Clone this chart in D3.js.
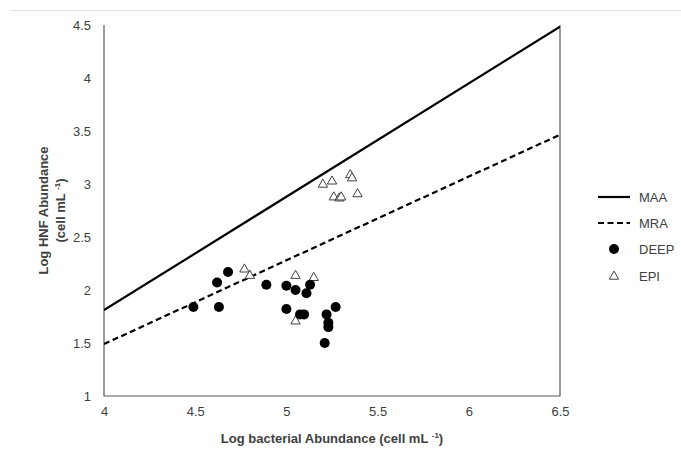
<!DOCTYPE html>
<html><head><meta charset="utf-8">
<script src="https://cdn.jsdelivr.net/npm/d3@7"></script>
<style>body{margin:0;background:#fff}svg{display:block}text{font-family:"Liberation Sans",Arial,sans-serif}</style>
</head><body><svg id="c" width="681" height="459"></svg>
<script>
// ---- data ----
const xTicks = [4, 4.5, 5, 5.5, 6, 6.5];
const yTicks = [1, 1.5, 2, 2.5, 3, 3.5, 4, 4.5];
const maaX = [4, 6.5];
const maaY = [1.81, 4.485];
const mraX = [4, 6.5];
const mraY = [1.49, 3.465];
const deepX = [4.49, 4.63, 4.62, 4.68, 4.89, 5.00, 5.05, 5.13, 5.11, 5.00, 5.075, 5.097, 5.27, 5.22, 5.23, 5.23, 5.21];
const deepY = [1.84, 1.84, 2.07, 2.17, 2.05, 2.04, 2.00, 2.05, 1.97, 1.82, 1.77, 1.77, 1.84, 1.77, 1.69, 1.65, 1.50];
const epiX = [5.20, 5.25, 5.35, 5.36, 5.26, 5.29, 5.30, 5.39, 4.77, 4.80, 5.05, 5.15, 5.05];
const epiY = [3.00, 3.03, 3.09, 3.06, 2.88, 2.87, 2.88, 2.91, 2.20, 2.14, 2.14, 2.12, 1.71];
const legendLabels = ["MAA", "MRA", "DEEP", "EPI"];
const xTitle = "Log bacterial Abundance (cell mL ";
const yTitle1 = "Log HNF Abundance";
const yTitle2 = "(cell mL ";

// ---- chart ----
const svg = d3.select("#c");
svg.append("rect").attr("width",681).attr("height",459).attr("fill","#fff");
svg.append("line").attr("x1",10).attr("x2",681).attr("y1",10.5).attr("y2",10.5).attr("stroke","#e3e3e3").attr("stroke-width",1);

const L = 104, R = 560, T = 25, B = 396;
const x = d3.scaleLinear().domain([4, 6.5]).range([L, R]);
const y = d3.scaleLinear().domain([1, 4.5]).range([B, T]);

const defs = svg.append("defs");
defs.append("clipPath").attr("id","plot").append("rect").attr("x",L).attr("y",T).attr("width",R-L).attr("height",B-T);

// axes (labels only, no tick marks)
const xAxis = svg.append("g").attr("transform",`translate(0,${B})`)
  .call(d3.axisBottom(x).tickValues(xTicks).tickSize(0).tickPadding(11).tickFormat(d3.format("~g")));
xAxis.select(".domain").remove();
xAxis.selectAll("text").attr("font-size",13).attr("fill","#404040").attr("font-family","Liberation Sans, Arial, sans-serif");

const yAxis = svg.append("g").attr("transform",`translate(${L},0)`)
  .call(d3.axisLeft(y).tickValues(yTicks).tickSize(0).tickPadding(13).tickFormat(d3.format("~g")));
yAxis.select(".domain").remove();
yAxis.selectAll("text").attr("font-size",13).attr("fill","#404040").attr("font-family","Liberation Sans, Arial, sans-serif");

// frame
svg.append("path").attr("d",`M${L},${T}V${B}H${R}V${T}`).attr("fill","none").attr("stroke","#595959").attr("stroke-width",1.2);

// lines
const line = d3.line().x(d=>x(d[0])).y(d=>y(d[1]));
const g = svg.append("g").attr("clip-path","url(#plot)");
g.append("path").datum(d3.zip(maaX, maaY)).attr("d",line).attr("fill","none").attr("stroke","#000").attr("stroke-width",2.2);
g.append("path").datum(d3.zip(mraX, mraY)).attr("d",line).attr("fill","none").attr("stroke","#000").attr("stroke-width",2.2).attr("stroke-dasharray","6,3.5");

// points
const tri = d3.symbol().type(d3.symbolTriangle).size(38);
g.selectAll("path.epi").data(d3.zip(epiX, epiY)).join("path").attr("class","epi")
  .attr("d",tri).attr("transform",d=>`translate(${x(d[0])},${y(d[1])+0.5})`)
  .attr("fill","#fff").attr("stroke","#404040").attr("stroke-width",1);
g.selectAll("circle.deep").data(d3.zip(deepX, deepY)).join("circle").attr("class","deep")
  .attr("cx",d=>x(d[0])).attr("cy",d=>y(d[1])).attr("r",5).attr("fill","#000");

// axis titles
const xt = svg.append("text").attr("x",(L+R)/2).attr("y",443).attr("text-anchor","middle")
  .attr("font-size",13).attr("font-weight","bold").attr("fill","#404040");
xt.append("tspan").text(xTitle);
xt.append("tspan").attr("font-size",8).attr("dy",-5).text("-1");
xt.append("tspan").attr("dy",5).text(")");

const yt = svg.append("g").attr("transform",`translate(0,${(T+B)/2}) rotate(-90)`);
yt.append("text").attr("x",0).attr("y",48).attr("text-anchor","middle").attr("font-size",13).attr("font-weight","bold").attr("fill","#404040").text(yTitle1);
const yt2 = yt.append("text").attr("x",0).attr("y",65).attr("text-anchor","middle").attr("font-size",13).attr("font-weight","bold").attr("fill","#404040");
yt2.append("tspan").text(yTitle2);
yt2.append("tspan").attr("font-size",8).attr("dy",-5).text("-1");
yt2.append("tspan").attr("dy",5).text(")");

// legend
const legY = [197, 223, 249, 276];
const lg = svg.append("g");
const lx0 = 598, lx1 = 630, lcx = 614, ltx = 639;
lg.append("line").attr("x1",lx0).attr("x2",lx1).attr("y1",legY[0]).attr("y2",legY[0]).attr("stroke","#000").attr("stroke-width",2.2);
lg.append("line").attr("x1",lx0).attr("x2",lx1).attr("y1",legY[1]).attr("y2",legY[1]).attr("stroke","#000").attr("stroke-width",2.2).attr("stroke-dasharray","6,3.5");
lg.append("circle").attr("cx",lcx).attr("cy",legY[2]).attr("r",5).attr("fill","#000");
lg.append("path").attr("d",tri).attr("transform",`translate(${lcx},${legY[3]+0.5})`).attr("fill","#fff").attr("stroke","#404040");
lg.selectAll("text").data(legendLabels).join("text").attr("x",ltx).attr("y",(d,i)=>legY[i]).attr("dy","0.35em")
  .attr("font-size",13).attr("fill","#404040").text(d=>d);
</script></body></html>
